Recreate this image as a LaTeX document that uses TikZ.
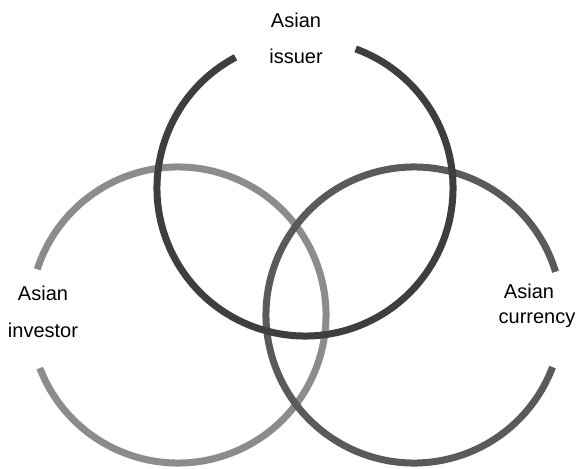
\documentclass[tikz,border=0pt]{standalone}
\usepackage{fontspec}
\setmainfont{Liberation Sans}
\definecolor{ringtop}{HTML}{3E3E3E}
\definecolor{ringleft}{HTML}{8C8C8C}
\definecolor{ringright}{HTML}{5A5A5A}
\begin{document}
\begin{tikzpicture}[x=1pt,y=-1pt,
  ring/.style={line width=7pt},
  lab/.style={anchor=base, inner sep=0pt, font=\fontsize{20}{24}\selectfont}]
\useasboundingbox (0,0) rectangle (579,469);
\coordinate (cT) at (305,188);
\coordinate (cL) at (178,315);
\coordinate (cR) at (414,315);
% left circle (Asian investor)
\draw[ring, ringleft] ([shift={(-201:148)}]cL) arc[start angle=-201, end angle=-522, radius=148];
% right circle (Asian currency)
\draw[ring, ringright] ([shift={(-17:148)}]cR) arc[start angle=-17, end angle=-339.4, radius=148];
% top circle (Asian issuer)
\draw[ring, ringtop] ([shift={(-118:148)}]cT) arc[start angle=-118, end angle=-430, radius=148];
% labels
\node[lab] (t1) at (296,27) {Asian};
\node[lab] (t2) at (296,63) {issuer};
\node[lab] (l1) at (43,300) {Asian};
\node[lab] (l2) at (43,337) {investor};
\node[lab] (r1) at (529,298) {Asian};
\node[lab] (r2) at (537,323) {currency};
\end{tikzpicture}
\end{document}
